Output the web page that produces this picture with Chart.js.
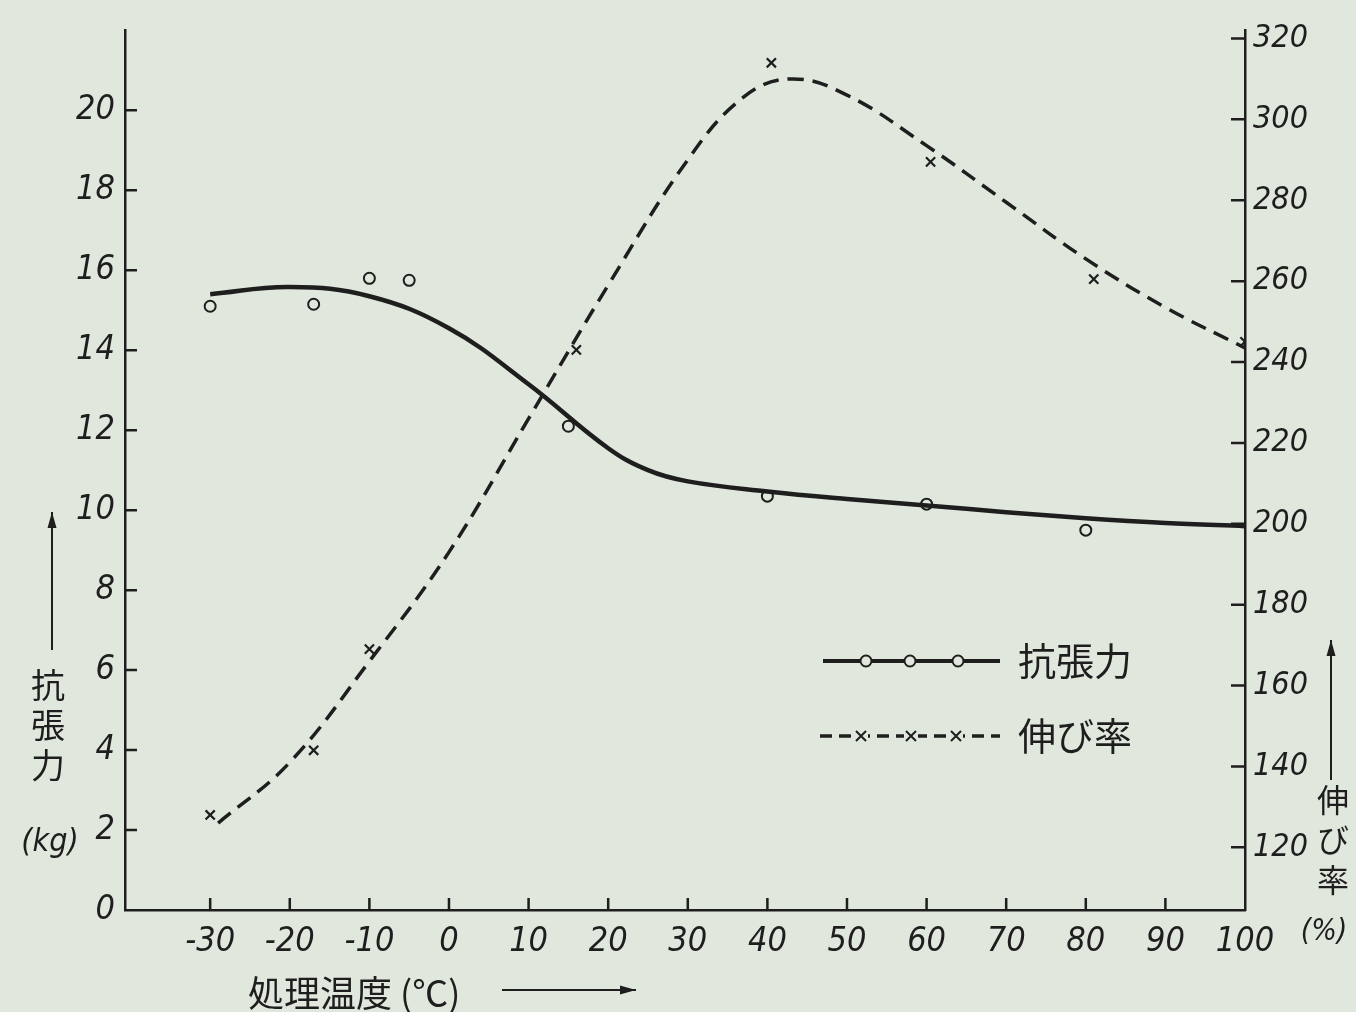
<!DOCTYPE html>
<html>
<head>
<meta charset="utf-8">
<script src="https://cdn.jsdelivr.net/npm/chart.js@4.4.0/dist/chart.umd.min.js"></script>
<style>
  html, body { margin: 0; padding: 0; background: #e0e7dd; }
  #wrap { width: 1356px; height: 1012px; position: relative; }
</style>
</head>
<body>
<div id="wrap"><canvas id="chart"></canvas></div>
<script>
// tick labels
const xTicks = [-30, -20, -10, 0, 10, 20, 30, 40, 50, 60, 70, 80, 90, 100];
const leftTicks = [0, 2, 4, 6, 8, 10, 12, 14, 16, 18, 20];
const rightTicks = [120, 140, 160, 180, 200, 220, 240, 260, 280, 300, 320];

// measured points: tensile strength (kg)
const tensileX = [-30, -17, -10, -5, 15, 40, 60, 80];
const tensileY = [15.1, 15.15, 15.8, 15.75, 12.1, 10.35, 10.15, 9.5];
// fitted curve for tensile strength
const tensileCurveX = [-30, -20, -10, 0, 10, 20, 25, 30, 40, 50, 60, 70, 80, 90, 100];
const tensileCurveY = [15.4, 15.58, 15.35, 14.55, 13.15, 11.55, 11.0, 10.72, 10.47, 10.28, 10.12, 9.95, 9.8, 9.68, 9.6];

// measured points: elongation (%)
const elongX = [-30, -17, -10, 16, 40.5, 60.5, 81, 100];
const elongY = [128, 144, 169, 243, 314, 289.5, 260.5, 245];
// fitted curve for elongation
const elongCurveX = [-29, -20, -10, 0, 10, 20, 30, 37, 43, 50, 60, 70, 80, 90, 100];
const elongCurveY = [126, 141, 166, 193, 226, 259, 290, 305.5, 310, 306, 293.5, 279.5, 265.5, 253.5, 243.5];

const INK = '#1e1e1e';
const BG = '#e0e7dd';
const NUM = '"DejaVu Sans Condensed", "Liberation Sans", sans-serif';
const tickFont = { family: NUM, style: 'italic', size: 34 };
const rightFont = { family: NUM, style: 'italic', size: 32 };
const cjkFont = '"Noto Sans CJK JP"';

const pairs = (xs, ys) => xs.map((x, i) => ({ x: x, y: ys[i] }));

const decorations = {
  id: 'decorations',
  afterDatasetsDraw(chart) {
    const ctx = chart.ctx;
    const { x, y, y2 } = chart.scales;
    const area = chart.chartArea;
    ctx.save();
    ctx.strokeStyle = INK;
    ctx.fillStyle = INK;
    ctx.lineWidth = 2.5;

    // inward tick marks
    ctx.beginPath();
    xTicks.forEach(v => {
      if (v === 100) return;
      const px = x.getPixelForValue(v);
      ctx.moveTo(px, area.bottom);
      ctx.lineTo(px, area.bottom - 12);
    });
    leftTicks.forEach(v => {
      if (v === 0) return;
      const py = y.getPixelForValue(v);
      ctx.moveTo(area.left, py);
      ctx.lineTo(area.left + 12, py);
    });
    rightTicks.forEach(v => {
      const py = y2.getPixelForValue(v);
      ctx.moveTo(area.right, py);
      ctx.lineTo(area.right - 14, py);
    });
    ctx.stroke();

    function arrow(x1, y1, x2, y2) {
      ctx.beginPath();
      ctx.lineWidth = 2;
      ctx.moveTo(x1, y1);
      ctx.lineTo(x2, y2);
      ctx.stroke();
      const a = Math.atan2(y2 - y1, x2 - x1);
      ctx.beginPath();
      ctx.moveTo(x2, y2);
      ctx.lineTo(x2 - 16 * Math.cos(a) + 4.5 * Math.sin(a), y2 - 16 * Math.sin(a) - 4.5 * Math.cos(a));
      ctx.lineTo(x2 - 16 * Math.cos(a) - 4.5 * Math.sin(a), y2 - 16 * Math.sin(a) + 4.5 * Math.cos(a));
      ctx.closePath();
      ctx.fill();
    }

    ctx.textAlign = 'center';
    ctx.textBaseline = 'middle';

    // left axis title
    arrow(52, 650, 52, 512);
    ctx.font = '34px ' + cjkFont;
    ['抗', '張', '力'].forEach((c, i) => ctx.fillText(c, 48, 685 + i * 40));
    ctx.font = 'italic 32px ' + NUM;
    ctx.fillText('(kg)', 50, 843);

    // right axis title
    arrow(1331, 780, 1331, 640);
    ctx.font = '32px ' + cjkFont;
    ['伸', 'び', '率'].forEach((c, i) => ctx.fillText(c, 1333, 800 + i * 40));
    ctx.font = 'italic 30px ' + NUM;
    ctx.fillText('(%)', 1324, 932);

    // x axis title
    ctx.textAlign = 'left';
    ctx.font = '36px ' + cjkFont;
    ctx.fillText('処理温度 (℃)', 248, 993);
    arrow(502, 990, 636, 990);

    // legend
    ctx.lineWidth = 4;
    ctx.beginPath();
    ctx.moveTo(823, 661);
    ctx.lineTo(1000, 661);
    ctx.stroke();
    ctx.lineWidth = 2;
    [866, 910, 958].forEach(cx => {
      ctx.beginPath();
      ctx.arc(cx, 661, 5.5, 0, Math.PI * 2);
      ctx.fillStyle = BG;
      ctx.fill();
      ctx.stroke();
    });
    ctx.lineWidth = 3.5;
    ctx.setLineDash([12, 7]);
    ctx.beginPath();
    ctx.moveTo(820, 736);
    ctx.lineTo(1000, 736);
    ctx.stroke();
    ctx.setLineDash([]);
    ctx.lineWidth = 2;
    [861, 911, 956].forEach(cx => {
      ctx.fillStyle = BG;
      ctx.fillRect(cx - 7, 728, 14, 16);
      ctx.beginPath();
      ctx.moveTo(cx - 5, 731); ctx.lineTo(cx + 5, 741);
      ctx.moveTo(cx + 5, 731); ctx.lineTo(cx - 5, 741);
      ctx.stroke();
    });
    ctx.fillStyle = INK;
    ctx.font = '38px ' + cjkFont;
    ctx.fillText('抗張力', 1018, 661);
    ctx.fillText('伸び率', 1018, 736);

    ctx.restore();
  }
};

new Chart(document.getElementById('chart'), {
  type: 'line',
  data: {
    datasets: [
      {
        label: '抗張力',
        data: pairs(tensileCurveX, tensileCurveY),
        yAxisID: 'y',
        borderColor: INK,
        borderWidth: 4.5,
        pointRadius: 0,
        tension: 0.4,
        order: 2
      },
      {
        label: '伸び率',
        data: pairs(elongCurveX, elongCurveY),
        yAxisID: 'y2',
        borderColor: INK,
        borderWidth: 3.5,
        borderDash: [16, 9],
        pointRadius: 0,
        tension: 0.4,
        order: 2
      },
      {
        label: '抗張力 (実測)',
        data: pairs(tensileX, tensileY),
        yAxisID: 'y',
        showLine: false,
        pointStyle: 'circle',
        pointRadius: 5.5,
        pointBorderWidth: 2,
        pointBorderColor: INK,
        pointBackgroundColor: 'rgba(0,0,0,0)',
        order: 1
      },
      {
        label: '伸び率 (実測)',
        data: pairs(elongX, elongY),
        yAxisID: 'y2',
        showLine: false,
        pointStyle: 'crossRot',
        pointRadius: 6.5,
        pointBorderWidth: 2.2,
        pointBorderColor: INK,
        order: 1
      }
    ]
  },
  options: {
    responsive: true,
    maintainAspectRatio: false,
    animation: false,
    layout: { padding: { top: 23, left: 0, right: 0, bottom: 0 } },
    plugins: {
      legend: { display: false },
      tooltip: { enabled: false }
    },
    scales: {
      x: {
        type: 'linear',
        min: -40.7,
        max: 100,
        afterBuildTicks: s => { s.ticks = xTicks.map(v => ({ value: v })); },
        afterFit: s => { s.height = 102; },
        grid: { display: false, drawTicks: false },
        border: { color: INK, width: 2.5 },
        ticks: { font: tickFont, color: INK, padding: 12, maxRotation: 0, autoSkip: false }
      },
      y: {
        position: 'left',
        min: 0,
        max: 22,
        afterBuildTicks: s => { s.ticks = leftTicks.map(v => ({ value: v })); },
        afterFit: s => { s.width = 125; },
        grid: { display: false, drawTicks: false },
        border: { color: INK, width: 2.5 },
        ticks: { font: tickFont, color: INK, padding: 10, autoSkip: false }
      },
      y2: {
        position: 'right',
        min: 104.5,
        max: 322,
        afterBuildTicks: s => { s.ticks = rightTicks.map(v => ({ value: v })); },
        afterFit: s => { s.width = 111; },
        grid: { display: false, drawTicks: false },
        border: { color: INK, width: 2.5 },
        ticks: { font: rightFont, color: INK, padding: 8, autoSkip: false }
      }
    }
  },
  plugins: [decorations]
});
</script>
</body>
</html>
